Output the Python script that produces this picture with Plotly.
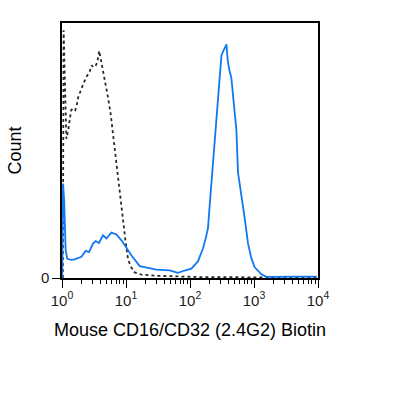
import plotly.graph_objects as go

# Isotype / control (dotted) histogram: fluorescence intensity vs. count (% of max)
ctrl_x = [1.03, 1.06, 1.17, 1.25, 1.39, 1.50, 1.61, 1.70, 1.79, 1.92, 2.14, 2.40, 2.71, 2.91,
          3.07, 3.32, 3.57, 3.81, 4.13, 4.65, 5.23, 5.77, 6.26, 7.08, 7.97, 8.98, 9.79, 10.7,
          11.8, 13.7, 17.6, 33.6, 69.0, 142, 853, 10000]
ctrl_y = [0, 106.0, 59.6, 63.2, 71.8, 72.6, 71.8, 73.9, 77.3, 79.6, 82.9, 85.9, 88.4, 91.0,
          90.2, 90.6, 92.4, 97.2, 92.4, 85.9, 77.4, 70.0, 61.5, 49.5, 36.2, 24.7, 16.1, 8.4,
          5.0, 2.4, 1.4, 0.9, 0.6, 0.4, 0.3, 0.3]

# Stained (blue) histogram
stain_x = [1.007, 1.04, 1.08, 1.14, 1.21, 1.40, 1.58, 1.78, 2.01, 2.34, 2.64, 3.05, 3.36, 3.78,
           4.37, 4.94, 5.92, 7.08, 8.48, 10.1, 12.1, 16.4, 20.8, 29.9, 48.2, 64.9, 82.6, 105,
           133, 160, 176, 191, 203, 216, 229, 243, 259, 274, 291, 310, 330, 371, 388, 407,
           443, 470, 499, 531, 562, 587, 635, 716, 806, 910, 1026, 1305, 1563, 2805, 5170, 9550]
stain_y = [0, 40.4, 33.2, 11.9, 8.2, 7.8, 8.0, 8.7, 9.1, 11.6, 11.1, 14.7, 15.8, 15.0,
           18.3, 16.9, 19.4, 18.6, 16.1, 13.0, 9.7, 5.1, 4.5, 3.6, 3.3, 2.2, 3.2, 4.0,
           7.1, 12.7, 17.0, 21.3, 31.1, 40.5, 51.6, 58.9, 70.5, 76.0, 84.6, 95.3, 97.0, 100.0, 93.2, 89.7,
           85.5, 77.4, 68.9, 63.2, 45.2, 41.8, 35.4, 25.5, 14.8, 8.4, 4.6, 1.6, 0.5, 0.4, 0.6, 0.6]

major_vals = [1, 10, 100, 1000, 10000]
major_text = ["10<sup>0</sup>", "10<sup>1</sup>", "10<sup>2</sup>", "10<sup>3</sup>", "10<sup>4</sup>"]
minor_vals = [m * d for d in [1, 10, 100, 1000] for m in range(2, 10)]

fig = go.Figure()
fig.add_trace(go.Scatter(x=ctrl_x, y=ctrl_y, mode="lines",
                         line=dict(color="#2a2a2a", width=1.8, dash="dot"),
                         showlegend=False, hoverinfo="skip"))
fig.add_trace(go.Scatter(x=stain_x, y=stain_y, mode="lines",
                         line=dict(color="#1078f2", width=1.8),
                         showlegend=False, hoverinfo="skip"))

fig.update_layout(
    width=415, height=399,
    margin=dict(l=62, r=97, t=23, b=121),
    paper_bgcolor="white", plot_bgcolor="white",
    font=dict(family="Liberation Sans, Arial, sans-serif", color="#111111"),
    xaxis=dict(
        type="log", range=[0, 4],
        tickvals=major_vals, ticktext=major_text,
        ticks="outside", ticklen=8, tickwidth=1.2, tickcolor="black",
        tickfont=dict(size=15, color="#222222"),
        minor=dict(tickvals=minor_vals, ticks="outside", ticklen=4, tickwidth=1, tickcolor="black"),
        showline=True, linecolor="black", linewidth=1.5, mirror=True,
        showgrid=False, zeroline=False,
        title=dict(text="Mouse CD16/CD32 (2.4G2) Biotin", font=dict(size=18, color="black"), standoff=16),
    ),
    yaxis=dict(
        range=[0, 109.1],
        tickvals=[0], ticktext=["0"],
        ticks="outside", ticklen=8, tickwidth=1.2, tickcolor="black",
        tickfont=dict(size=15, color="#222222"),
        showline=True, linecolor="black", linewidth=1.5, mirror=True,
        showgrid=False, zeroline=False,
        title=dict(text="Count", font=dict(size=18, color="black"), standoff=15),
    ),
)

fig.write_html("out.html")
